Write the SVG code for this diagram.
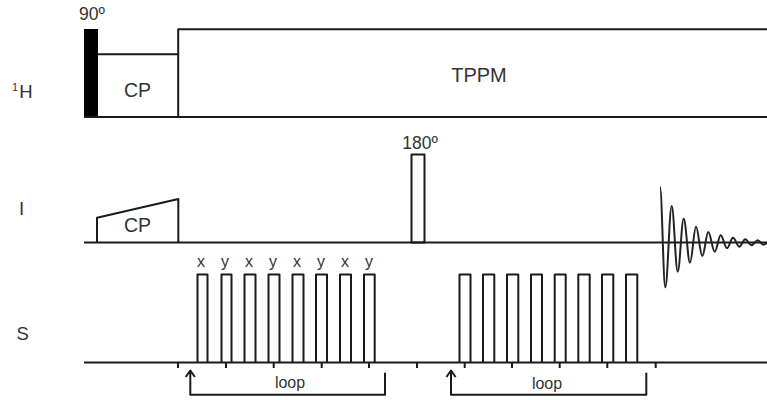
<svg xmlns="http://www.w3.org/2000/svg" width="767" height="400" viewBox="0 0 767 400">
<style>
text{font-family:"Liberation Sans",Arial,sans-serif;fill:#333;font-size:17.5px}
.m{text-anchor:middle}
.s{font-size:16px}
.b{font-size:19.500px}
.c{font-size:18.500px}
.l{fill:none;stroke:#1a1a1a;stroke-width:2;stroke-linejoin:round}
.f{fill:none;stroke:#222;stroke-width:2}
</style>
<rect width="767" height="400" fill="#fff"/>
<g id="channel-1H">
<text class="c" x="12" y="98"><tspan font-size="11" dy="-7">1</tspan><tspan dy="7" dx="1">H</tspan></text>
<text class="m" x="92" y="20">90º</text>
<rect x="84" y="29" width="14" height="88" fill="#000"/>
<path class="l" d="M84 117H767M98 54.300H178.200M178.200 117V29.300H767"/>
<text class="m b" x="137.500" y="96.500">CP</text>
<text class="m b" x="479" y="82" style="font-size:20px">TPPM</text>
</g>
<g id="channel-I">
<text class="c" x="19" y="215">I</text>
<path class="l" d="M84 242.500H767M97 242.500V217.700L178.300 199V242.500"/>
<text class="m b" x="137.500" y="231.700">CP</text>
<rect class="l" x="411.500" y="154.500" width="13" height="88"/>
<text class="m" x="420" y="149">180º</text>
<path class="f" d="M660 187.300C662 187.300 663.300 287.300 665.300 287.300C667.700 287.300 669.300 206 671.700 206C673.900 206 675.500 271.700 677.700 271.700C679.900 271.700 681.500 218.700 683.700 218.700C686 218.700 687.700 262.700 690 262.700C692.200 262.700 693.800 226.700 696 226.700C698.300 226.700 700 256 702.300 256C704.500 256 706.100 232 708.300 232C710.600 232 712.400 251.700 714.700 251.700C716.900 251.700 718.500 235.300 720.700 235.300C723 235.300 724.700 248.300 727 248.300C729.200 248.300 730.800 237.700 733 237.700C735.300 237.700 737 246.700 739.300 246.700C741.500 246.700 743.100 239.300 745.300 239.300C747.500 239.300 749.100 245.300 751.300 245.300C753.600 245.300 755.400 240.300 757.700 240.300C759.900 240.300 761.500 244.700 763.700 244.700C765 244.700 766 243 767 243"/>
</g>
<g id="channel-S">
<text class="c" x="16.500" y="340">S</text>
<path class="l" d="M84 362.500H767"/>
<path class="l" d="M197.500 362.500V274.500H207.500V362.500M221.500 362.500V274.500H231.500V362.500M244.500 362.500V274.500H255.500V362.500M268.500 362.500V274.500H279.500V362.500M292.500 362.500V274.500H303.500V362.500M316 362.500V274.500H327V362.500M340 362.500V274.500H351V362.500M364 362.500V274.500H374.700V362.500"/>
<path class="l" d="M459.500 362.500V274.500H470.500V362.500M483 362.500V274.500H494.300V362.500M507 362.500V274.500H518.300V362.500M531 362.500V274.500H542V362.500M554.700 362.500V274.500H565.700V362.500M578.300 362.500V274.500H589.700V362.500M602 362.500V274.500H613.300V362.500M626 362.500V274.500H637.300V362.500"/>
<text class="m s" x="201" y="267">x</text><text class="m s" x="225" y="267">y</text>
<text class="m s" x="249" y="267">x</text><text class="m s" x="273" y="267">y</text>
<text class="m s" x="297" y="267">x</text><text class="m s" x="321" y="267">y</text>
<text class="m s" x="345" y="267">x</text><text class="m s" x="369" y="267">y</text>
</g>
<g id="connectors">
<path class="l" d="M178 362.500V368M226 362.500V368M273.700 362.500V368M321.700 362.500V368M369 362.500V368M417 362.500V368M464.700 362.500V368M512 362.500V368M559.700 362.500V368M607.300 362.500V368M655.700 362.500V368"/>
<path class="l" d="M190.300 371V394.700H385V372.700M185.700 377L190.300 370.500L194.900 377"/>
<path class="l" d="M451 371V394.700H646.300V372.700M446.400 377L451 370.500L455.600 377"/>
<text class="m s" x="290" y="388">loop</text>
<text class="m s" x="547" y="389">loop</text>
</g>
</svg>
